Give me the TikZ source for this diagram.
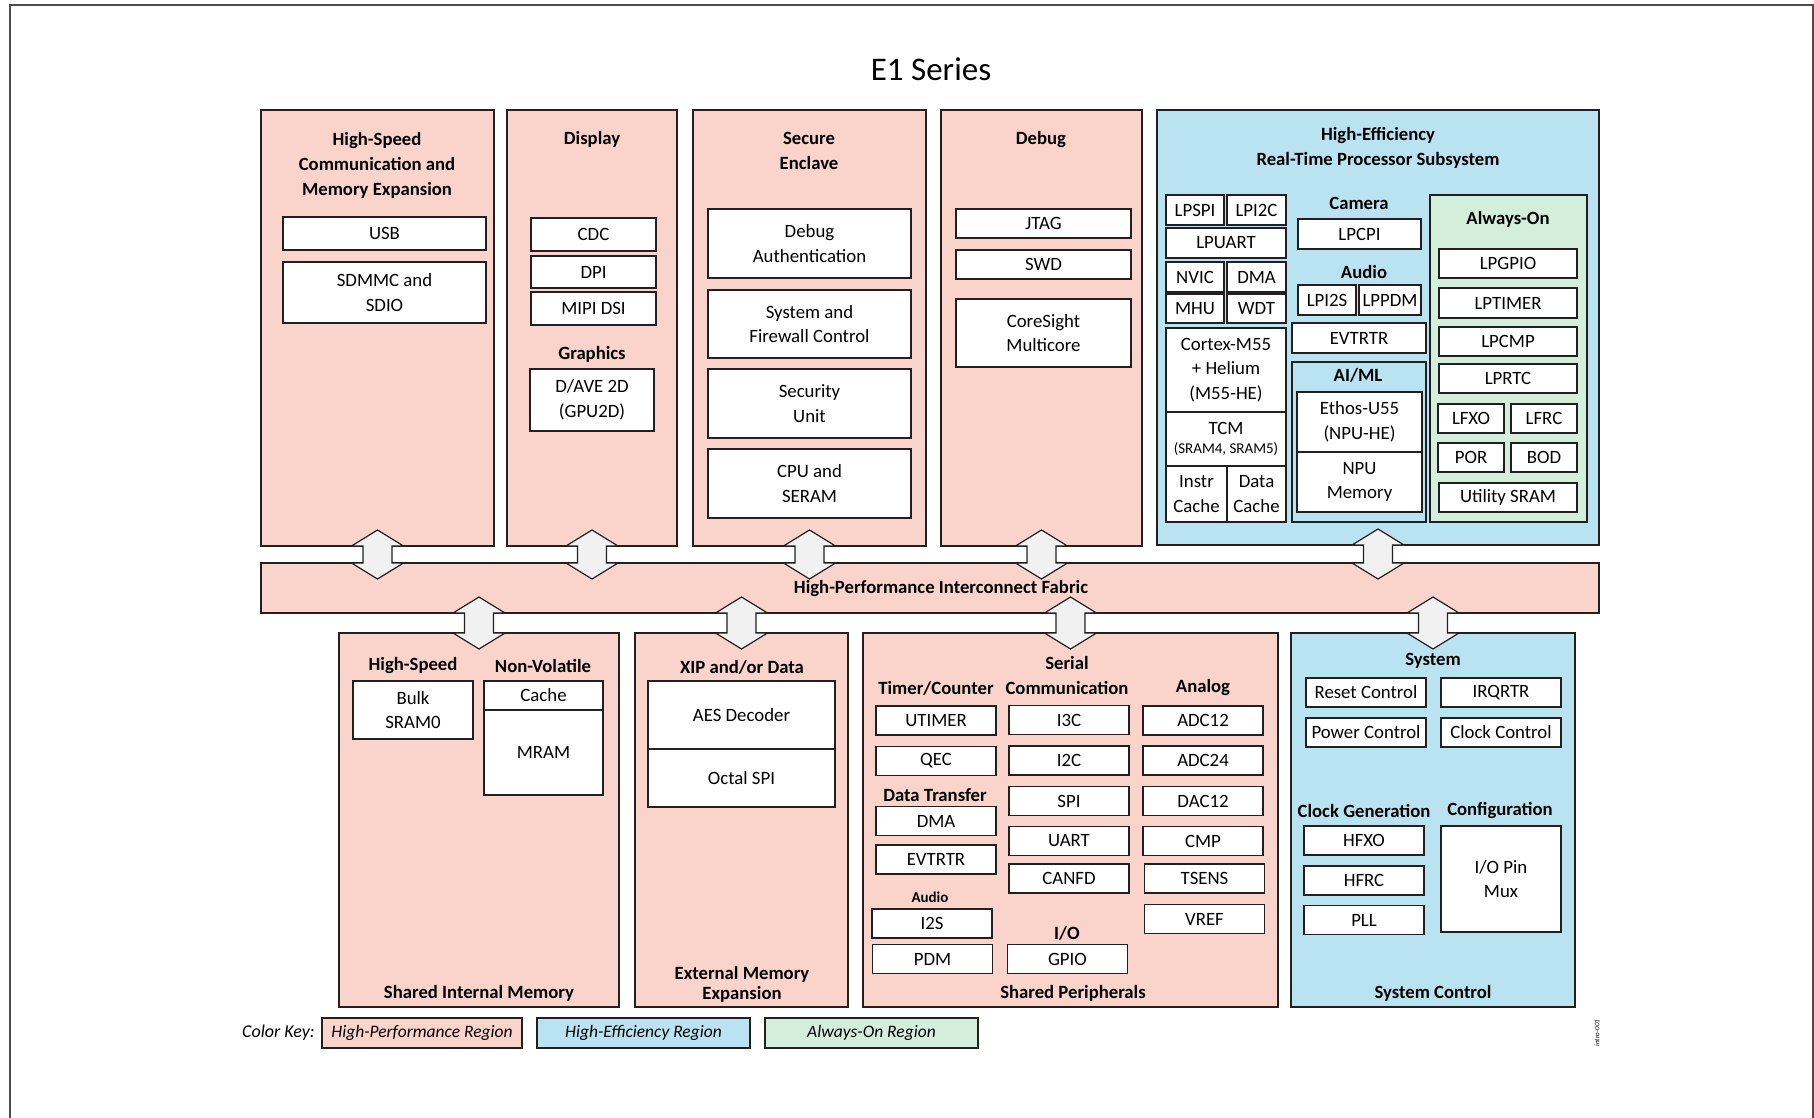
\documentclass[tikz,border=0pt]{standalone}
\usepackage{fontspec}
\setmainfont{Carlito}
\usetikzlibrary{calc, positioning}

\definecolor{hpfill}{RGB}{250,212,203}
\definecolor{hefill}{RGB}{186,227,242}
\definecolor{aofill}{RGB}{212,238,220}
\definecolor{busfill}{RGB}{241,241,241}
\definecolor{edge}{RGB}{35,31,32}

% block arrow between two regions (upper end, lower end)
\newcommand{\busarrow}[2]{%
  \coordinate (ua) at (#1);
  \coordinate (la) at (#2);
  \draw[bus] ($(ua)+(0,-16)$) -- ($(ua)+(26,0)$) -- ($(ua)+(14.5,0)$) -- ($(la)+(14.5,0)$)
    -- ($(la)+(26,0)$) -- ($(la)+(0,16)$) -- ($(la)+(-26,0)$) -- ($(la)+(-14.5,0)$)
    -- ($(ua)+(-14.5,0)$) -- ($(ua)+(-26,0)$) -- cycle;}

\begin{document}
\begin{tikzpicture}[x=1pt, y=-1pt,
    region/.style={draw=edge, line width=1.3pt, inner sep=0pt, outer sep=0pt},
    blk/.style={draw=edge, fill=white, line width=1.2pt, inner sep=0pt, outer sep=0pt, align=center, font=\fontsize{18.8}{24.5}\selectfont},
    hdr/.style={font=\fontsize{18.7}{25}\selectfont\bfseries, align=center, inner sep=0pt},
    bus/.style={draw=edge, fill=busfill, line width=1.2pt, line join=miter},
    wh/.style 2 args={minimum width=#1pt, minimum height=#2pt}
]
    \useasboundingbox (0,0) rectangle (1814,1118);
    \fill[white] (0,0) rectangle (1814,1118);
    \draw[gray!60!black, line width=1.5pt] (10,1130) -- (10,5) -- (1813,5) -- (1813,1130);

    % Title
    \node[font=\fontsize{33}{40}\selectfont] (title) at (931,69) {E1 Series};

    % Top regions
    \node[region, fill=hpfill, wh={233}{436}] (hscomm) at (377.5,328) {};
    \node[region, fill=hpfill, wh={170}{436}] (display) at (592,328) {};
    \node[region, fill=hpfill, wh={233}{436}] (secure) at (809.5,328) {};
    \node[region, fill=hpfill, wh={201}{436}] (debug) at (1041.5,328) {};
    \node[region, fill=hefill, wh={442}{435}] (heproc) at (1378,327.5) {};

    % Interconnect fabric
    \node[region, fill=hpfill, wh={1338}{50}] (fabric) at (930,588) {};
    \node[hdr] (fabriclbl) at (941,589) {High-Performance Interconnect Fabric};

    % Bottom regions
    \node[region, fill=hpfill, wh={280}{374}] (sharedmem) at (479,820) {};
    \node[region, fill=hpfill, wh={213}{374}] (extmem) at (741.5,820) {};
    \node[region, fill=hpfill, wh={415}{374}] (periph) at (1070.5,820) {};
    \node[region, fill=hefill, wh={284}{374}] (sysctl) at (1433,820) {};

    % Bus arrows
    \busarrow{hscomm.south}{hscomm.south |- fabric.north}
    \busarrow{display.south}{display.south |- fabric.north}
    \busarrow{secure.south}{secure.south |- fabric.north}
    \busarrow{debug.south}{debug.south |- fabric.north}
    \busarrow{heproc.south}{heproc.south |- fabric.north}
    \busarrow{sharedmem.north |- fabric.south}{sharedmem.north}
    \busarrow{extmem.north |- fabric.south}{extmem.north}
    \busarrow{periph.north |- fabric.south}{periph.north}
    \busarrow{sysctl.north |- fabric.south}{sysctl.north}

    % High-speed communication
    \node[hdr] (hscommlbl) at (377,165) {High-Speed\\Communication and\\Memory Expansion};
    \node[blk, wh={203}{33}] (usb) at (384.5,233.5) {USB};
    \node[blk, wh={203}{61}] (sdmmc) at (384.5,292.5) {SDMMC and\\SDIO};

    % Display
    \node[hdr] (displaylbl) at (592,139) {Display};
    \node[blk, wh={125}{33}] (cdc) at (593.5,234.5) {CDC};
    \node[blk, wh={125}{32}] (dpi) at (593.5,272) {DPI};
    \node[blk, wh={125}{33}] (mipi) at (593.5,308.5) {MIPI DSI};
    \node[hdr] (graphicslbl) at (592,354) {Graphics};
    \node[blk, wh={124}{62}] (dave) at (592,400) {D/AVE 2D\\(GPU2D)};

    % Secure enclave
    \node[hdr] (securelbl) at (809,150.5) {Secure\\Enclave};
    \node[blk, wh={203}{69}] (dbgauth) at (809.5,243.5) {Debug\\Authentication};
    \node[blk, wh={203}{68}] (sysfw) at (809.5,324) {System and\\Firewall Control};
    \node[blk, wh={203}{69}] (secunit) at (809.5,403.5) {Security\\Unit};
    \node[blk, wh={203}{69}] (cpuseram) at (809.5,483.5) {CPU and\\SERAM};

    % Debug
    \node[hdr] (debuglbl) at (1041,140) {Debug};
    \node[blk, wh={175}{29}] (jtag) at (1043.5,223.5) {JTAG};
    \node[blk, wh={175}{29}] (swd) at (1043.5,264.5) {SWD};
    \node[blk, wh={175}{68}] (coresight) at (1043.5,333) {CoreSight\\Multicore};

    % High-efficiency subsystem
    \node[hdr] (heproclbl) at (1378,148) {High-Efficiency\\Real-Time Processor Subsystem};
    \node[blk, wh={58}{30}] (lpspi) at (1195,210) {LPSPI};
    \node[blk, wh={59}{30}] (lpi2c) at (1256.5,210) {LPI2C};
    \node[blk, wh={120}{30}] (lpuart) at (1226,243) {LPUART};
    \node[blk, wh={58}{30}] (nvic) at (1195,277) {NVIC};
    \node[blk, wh={59}{30}] (hedma) at (1256.5,277) {DMA};
    \node[blk, wh={58}{29}] (mhu) at (1195,308.5) {MHU};
    \node[blk, wh={59}{29}] (wdt) at (1256.5,308.5) {WDT};
    \node[blk, wh={120}{84}] (cortex) at (1226,370) {Cortex-M55\\+ Helium\\(M55-HE)};
    \node[blk, wh={120}{54}] (tcm) at (1226,439) {TCM\\[-6pt]{\fontsize{15}{17}\selectfont (SRAM4, SRAM5)}};
    \node[blk, wh={61}{56}] (icache) at (1196.5,494) {Instr\\Cache};
    \node[blk, wh={59}{56}] (dcache) at (1256.5,494) {Data\\Cache};

    \node[hdr] (cameralbl) at (1359,203) {Camera};
    \node[blk, wh={123}{30}] (lpcpi) at (1359.5,234) {LPCPI};
    \node[hdr] (heaudiolbl) at (1364,272) {Audio};
    \node[blk, wh={58}{30}] (lpi2s) at (1327,300) {LPI2S};
    \node[blk, wh={62}{30}] (lppdm) at (1390,300) {LPPDM};
    \node[blk, wh={134}{30}] (heevt) at (1359,338) {EVTRTR};

    \node[region, fill=hefill, line width=1.2pt, wh={134}{160}] (aiml) at (1359,442) {};
    \node[hdr] (aimllbl) at (1358,375) {AI/ML};
    \node[blk, wh={125}{60}] (ethos) at (1359.5,422) {Ethos-U55\\(NPU-HE)};
    \node[blk, wh={125}{60}] (npumem) at (1359.5,482) {NPU\\Memory};

    % Always-on
    \node[region, fill=aofill, line width=1.2pt, wh={157}{327}] (alwayson) at (1508.5,358.5) {};
    \node[hdr] (alwaysonlbl) at (1508,219) {Always-On};
    \node[blk, wh={138}{29}] (lpgpio) at (1508,263.5) {LPGPIO};
    \node[blk, wh={138}{30}] (lptimer) at (1508,303) {LPTIMER};
    \node[blk, wh={138}{29}] (lpcmp) at (1508,341.5) {LPCMP};
    \node[blk, wh={138}{29}] (lprtc) at (1508,378.5) {LPRTC};
    \node[blk, wh={66}{29}] (lfxo) at (1471,418.5) {LFXO};
    \node[blk, wh={66}{29}] (lfrc) at (1544,418.5) {LFRC};
    \node[blk, wh={66}{29}] (por) at (1471,457.5) {POR};
    \node[blk, wh={66}{29}] (bod) at (1544,457.5) {BOD};
    \node[blk, wh={138}{29}] (usram) at (1508,497.5) {Utility SRAM};

    % Shared internal memory
    \node[hdr] (hsmemlbl) at (413,666) {High-Speed};
    \node[hdr] (nvmemlbl) at (543,666) {Non-Volatile};
    \node[blk, wh={120}{58}] (bulk) at (413,710) {Bulk\\SRAM0};
    \node[blk, wh={119}{29}] (nvcache) at (543.5,695.5) {Cache};
    \node[blk, wh={119}{85}] (mram) at (543.5,752.5) {MRAM};
    \node[hdr] (sharedmemlbl) at (479,993.5) {Shared Internal Memory};

    % External memory
    \node[hdr] (xiplbl) at (742,667) {XIP and/or Data};
    \node[blk, wh={187}{68}] (aes) at (741.5,715) {AES Decoder};
    \node[blk, wh={187}{58}] (ospi) at (741.5,778) {Octal SPI};
    \node[hdr, font=\fontsize{18.7}{20}\selectfont\bfseries] (extmemlbl) at (742,984) {External Memory\\Expansion};

    % Shared peripherals
    \node[hdr] (timerlbl) at (936,688) {Timer/Counter};
    \node[hdr] (seriallbl) at (1067,675.5) {Serial\\Communication};
    \node[hdr] (analoglbl) at (1203,688) {Analog};
    \node[blk, wh={120}{29}] (utimer) at (936,720.5) {UTIMER};
    \node[blk, wh={120}{29}] (qec) at (936,761) {QEC};
    \node[hdr] (xferlbl) at (935,795) {Data Transfer};
    \node[blk, wh={120}{29}] (pdma) at (936,821) {DMA};
    \node[blk, wh={120}{29}] (pevt) at (936,859.5) {EVTRTR};
    \node[hdr, font=\fontsize{15}{18}\selectfont\bfseries] (paudiolbl) at (930,897.5) {Audio};
    \node[blk, wh={120}{29}] (i2s) at (932,923.5) {I2S};
    \node[blk, wh={120}{29}] (pdm) at (932.5,959) {PDM};
    \node[blk, wh={120}{29}] (i3c) at (1069,720) {I3C};
    \node[blk, wh={120}{29}] (i2c) at (1069,760.5) {I2C};
    \node[blk, wh={120}{29}] (spi) at (1069,801) {SPI};
    \node[blk, wh={120}{29}] (uart) at (1069,841) {UART};
    \node[blk, wh={120}{29}] (canfd) at (1069,878.5) {CANFD};
    \node[hdr] (iolbl) at (1067,933.5) {I/O};
    \node[blk, wh={120}{29}] (gpio) at (1067.5,959) {GPIO};
    \node[blk, wh={120}{29}] (adc12) at (1203,720.5) {ADC12};
    \node[blk, wh={120}{29}] (adc24) at (1203,760.5) {ADC24};
    \node[blk, wh={120}{29}] (dac12) at (1203,801) {DAC12};
    \node[blk, wh={120}{29}] (cmp) at (1203,841) {CMP};
    \node[blk, wh={120}{29}] (tsens) at (1204.5,878.5) {TSENS};
    \node[blk, wh={120}{29}] (vref) at (1204.5,919) {VREF};
    \node[hdr] (periphlbl) at (1073,993.5) {Shared Peripherals};

    % System control
    \node[hdr] (systemlbl) at (1433,661) {System};
    \node[blk, wh={120}{29}] (reset) at (1366,692.5) {Reset Control};
    \node[blk, wh={120}{29}] (irqrtr) at (1501,692.5) {IRQRTR};
    \node[blk, wh={120}{29}] (pwrctl) at (1366,732.5) {Power Control};
    \node[blk, wh={120}{29}] (clkctl) at (1501,732.5) {Clock Control};
    \node[hdr] (clkgenlbl) at (1364,811) {Clock Generation};
    \node[hdr] (configlbl) at (1500,811) {Configuration};
    \node[blk, wh={120}{29}] (hfxo) at (1364,840.5) {HFXO};
    \node[blk, wh={120}{29}] (hfrc) at (1364,880.5) {HFRC};
    \node[blk, wh={120}{29}] (pll) at (1364,920) {PLL};
    \node[blk, wh={120}{106}] (iomux) at (1501,879) {I/O Pin\\Mux};
    \node[hdr] (sysctllbl) at (1433,993.5) {System Control};

    % Color key
    \node[font=\fontsize{18}{20}\selectfont\itshape, anchor=east, inner sep=0pt] (keylbl) at (315,1033) {Color Key:};
    \node[blk, fill=hpfill, wh={200}{30}, font=\fontsize{17.5}{20}\selectfont\itshape] (hpkey) at (422,1033) {High-Performance Region};
    \node[blk, fill=hefill, wh={213}{30}, font=\fontsize{17.5}{20}\selectfont\itshape] (hekey) at (643.5,1033) {High-Efficiency Region};
    \node[blk, fill=aofill, wh={213}{30}, font=\fontsize{17.5}{20}\selectfont\itshape] (aokey) at (871.5,1033) {Always-On Region};
    \node[font=\fontsize{7}{8}\selectfont\itshape, rotate=90, inner sep=0pt] (figid) at (1597,1033) {intro-001};
\end{tikzpicture}
\end{document}
